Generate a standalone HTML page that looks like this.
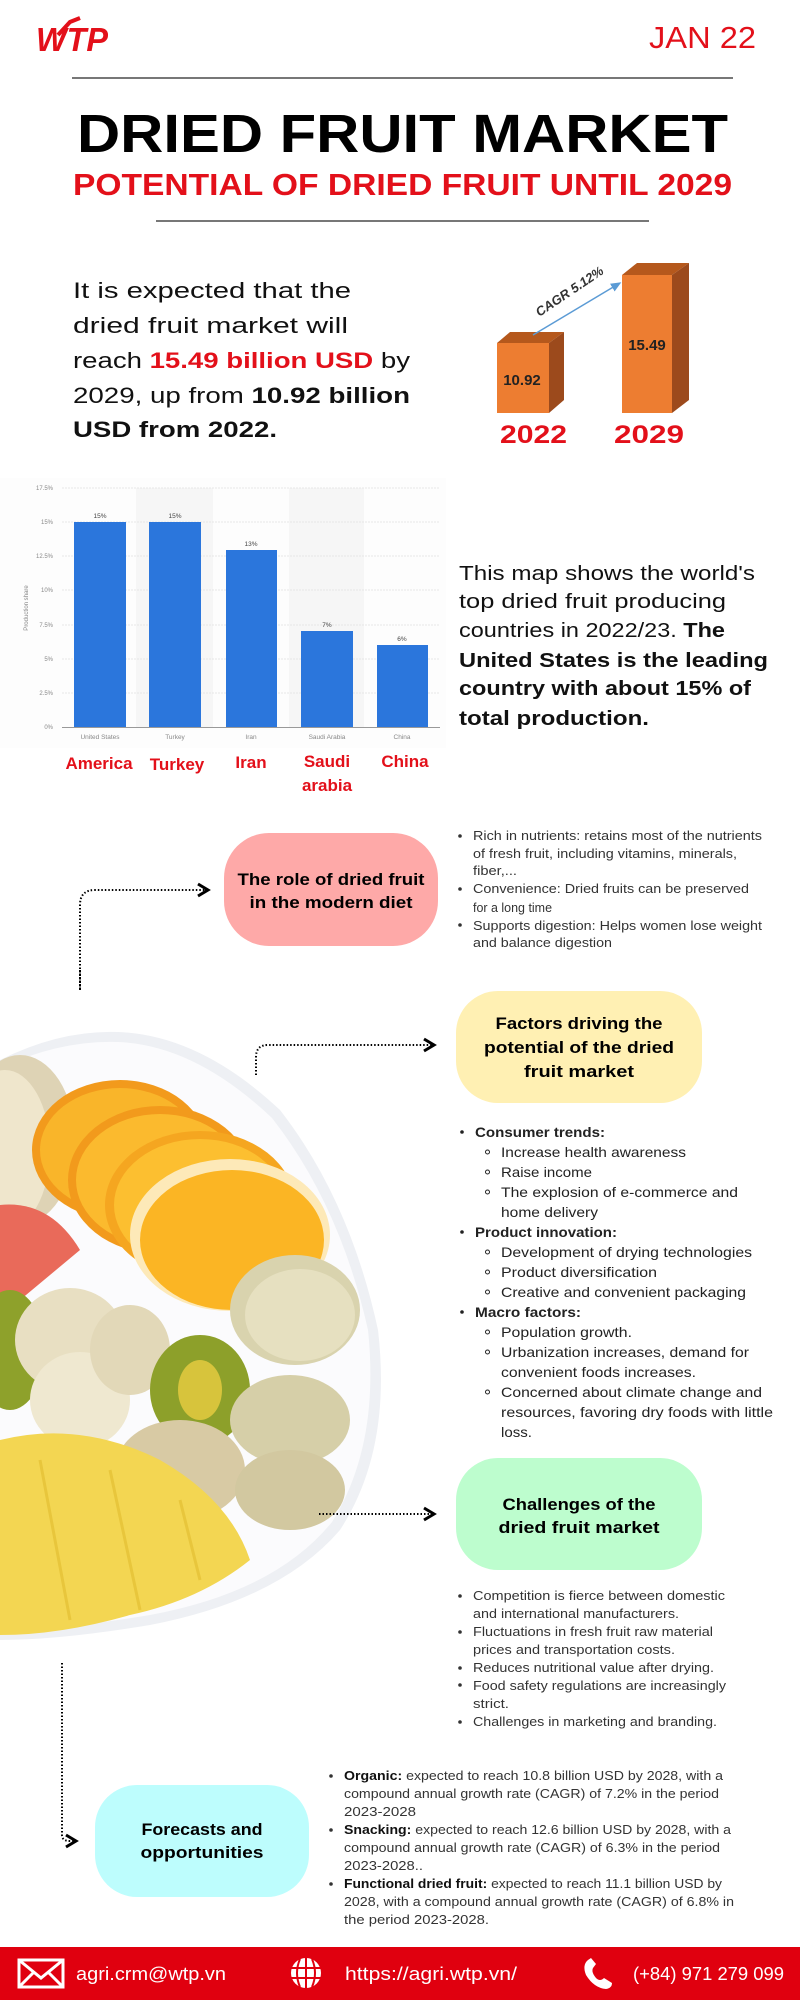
<!DOCTYPE html>
<html><head><meta charset="utf-8"><style>
html,body{margin:0;padding:0;background:#fff}
svg{display:block}
text{font-family:"Liberation Sans",sans-serif}
</style></head><body>
<svg width="800" height="2000" viewBox="0 0 800 2000" xmlns="http://www.w3.org/2000/svg">
<defs>
<marker id="ar" markerWidth="8" markerHeight="8" refX="6" refY="4" orient="auto"><path d="M1,1 L6,4 L1,7" fill="none" stroke="#000" stroke-width="1.5"/></marker>
<marker id="ab" markerWidth="8" markerHeight="8" refX="6" refY="4" orient="auto"><path d="M0,1 L7,4 L0,7Z" fill="#5b9bd5"/></marker>
</defs>
<rect width="800" height="2000" fill="#fff"/>
<!-- header -->
<text x="36" y="51" font-size="33" font-weight="bold" font-style="italic" fill="#e3101a" textLength="72" lengthAdjust="spacingAndGlyphs">WTP</text>
<path d="M58,35 L70,22 L80,18" stroke="#e3101a" stroke-width="4" fill="none"/>
<text x="649" y="48" font-size="31" fill="#e3101a" textLength="107" lengthAdjust="spacingAndGlyphs">JAN 22</text>
<rect x="72" y="77" width="661" height="2" fill="#777"/>
<text x="77" y="152" font-size="54" font-weight="bold" fill="#000" textLength="651" lengthAdjust="spacingAndGlyphs">DRIED FRUIT MARKET</text>
<text x="73" y="195" font-size="31" font-weight="bold" fill="#e3101a" textLength="659" lengthAdjust="spacingAndGlyphs">POTENTIAL OF DRIED FRUIT UNTIL 2029</text>
<rect x="156" y="220" width="493" height="2" fill="#777"/>
<!-- intro paragraph -->
<g font-size="22" fill="#111">
<text x="73" y="298" textLength="278" lengthAdjust="spacingAndGlyphs">It is expected that the</text>
<text x="73" y="333" textLength="275" lengthAdjust="spacingAndGlyphs">dried fruit market will</text>
<text x="73" y="368" textLength="337" lengthAdjust="spacingAndGlyphs">reach <tspan fill="#e3101a" font-weight="bold">15.49 billion USD</tspan> by</text>
<text x="73" y="403" textLength="337" lengthAdjust="spacingAndGlyphs">2029, up from <tspan font-weight="bold">10.92 billion</tspan></text>
<text x="73" y="437" font-weight="bold" textLength="204" lengthAdjust="spacingAndGlyphs">USD from 2022.</text>
</g>
<!-- 3D bars -->
<polygon points="497,343 510,332 564,332 549,343" fill="#b5581c"/>
<polygon points="549,343 564,332 564,400 549,413" fill="#9c4a1c"/>
<rect x="497" y="343" width="52" height="70" fill="#ed7d31"/>
<polygon points="622,275 637,263 689,263 672,275" fill="#b5581c"/>
<polygon points="672,275 689,263 689,400 672,413" fill="#9c4a1c"/>
<rect x="622" y="275" width="50" height="138" fill="#ed7d31"/>
<text x="522" y="385" font-size="15" font-weight="bold" text-anchor="middle" fill="#222">10.92</text>
<text x="647" y="350" font-size="15" font-weight="bold" text-anchor="middle" fill="#222">15.49</text>
<line x1="533" y1="335" x2="620" y2="283" stroke="#5b9bd5" stroke-width="1.5" marker-end="url(#ab)"/>
<text x="572" y="295" font-size="13" font-weight="bold" font-style="italic" fill="#333" text-anchor="middle" transform="rotate(-34 572 295)">CAGR 5.12%</text>
<text x="500" y="443" font-size="25" font-weight="bold" fill="#e3101a" textLength="67" lengthAdjust="spacingAndGlyphs">2022</text>
<text x="614" y="443" font-size="25" font-weight="bold" fill="#e3101a" textLength="70" lengthAdjust="spacingAndGlyphs">2029</text>
<!-- bar chart -->
<rect x="0" y="478" width="446" height="270" fill="#fdfdfd"/>
<rect x="136" y="488" width="77" height="239" fill="#f6f6f6"/>
<rect x="289" y="488" width="75" height="239" fill="#f6f6f6"/>
<g stroke="#e6e6e6" stroke-width="1" stroke-dasharray="2,1">
<line x1="62" y1="488" x2="440" y2="488"/><line x1="62" y1="522" x2="440" y2="522"/><line x1="62" y1="556" x2="440" y2="556"/><line x1="62" y1="590" x2="440" y2="590"/><line x1="62" y1="625" x2="440" y2="625"/><line x1="62" y1="659" x2="440" y2="659"/><line x1="62" y1="693" x2="440" y2="693"/>
</g>
<g font-size="6" fill="#888" text-anchor="end">
<text x="53" y="490">17.5%</text><text x="53" y="524">15%</text><text x="53" y="558">12.5%</text><text x="53" y="592">10%</text><text x="53" y="627">7.5%</text><text x="53" y="661">5%</text><text x="53" y="695">2.5%</text><text x="53" y="729">0%</text>
</g>
<text x="28" y="608" font-size="6" fill="#888" text-anchor="middle" transform="rotate(-90 28 608)">Production share</text>
<g fill="#2b76dc">
<rect x="74" y="522" width="52" height="205"/><rect x="149" y="522" width="52" height="205"/><rect x="226" y="550" width="51" height="177"/><rect x="301" y="631" width="52" height="96"/><rect x="377" y="645" width="51" height="82"/>
</g>
<line x1="62" y1="727.5" x2="440" y2="727.5" stroke="#999" stroke-width="1"/>
<g font-size="6.5" fill="#444" text-anchor="middle">
<text x="100" y="518">15%</text><text x="175" y="518">15%</text><text x="251" y="546">13%</text><text x="327" y="627">7%</text><text x="402" y="641">6%</text>
</g>
<g font-size="6.5" fill="#888" text-anchor="middle">
<text x="100" y="739">United States</text><text x="175" y="739">Turkey</text><text x="251" y="739">Iran</text><text x="327" y="739">Saudi Arabia</text><text x="402" y="739">China</text>
</g>
<g font-size="17" font-weight="bold" fill="#e3101a" text-anchor="middle">
<text x="99" y="769">America</text><text x="177" y="770">Turkey</text><text x="251" y="768">Iran</text><text x="327" y="767">Saudi</text><text x="327" y="791">arabia</text><text x="405" y="767">China</text>
</g>
<g font-size="20" fill="#111">
<text x="459" y="580" textLength="296" lengthAdjust="spacingAndGlyphs">This map shows the world's</text>
<text x="459" y="608" textLength="267" lengthAdjust="spacingAndGlyphs">top dried fruit producing</text>
<text x="459" y="637" textLength="266" lengthAdjust="spacingAndGlyphs">countries in 2022/23. <tspan font-weight="bold">The</tspan></text>
<text x="459" y="667" font-weight="bold" textLength="309" lengthAdjust="spacingAndGlyphs">United States is the leading</text>
<text x="459" y="695" font-weight="bold" textLength="292" lengthAdjust="spacingAndGlyphs">country with about 15% of</text>
<text x="459" y="725" font-weight="bold" textLength="190" lengthAdjust="spacingAndGlyphs">total production.</text>
</g>
<!-- role box -->
<rect x="224" y="833" width="214" height="113" rx="45" fill="#fea9a8"/>
<g font-size="17" font-weight="bold" fill="#000" text-anchor="middle">
<text x="331" y="885" textLength="187" lengthAdjust="spacingAndGlyphs">The role of dried fruit</text>
<text x="331" y="908" textLength="163" lengthAdjust="spacingAndGlyphs">in the modern diet</text>
</g>
<path d="M80,990 L80,905 Q80,890 95,890 L208,890" fill="none" stroke="#000" stroke-width="2" stroke-dasharray="1.5,2" marker-end="url(#ar)"/>
<g font-size="13" fill="#333">
<circle cx="460" cy="836" r="1.8"/><circle cx="460" cy="889" r="1.8"/><circle cx="460" cy="925" r="1.8"/>
<text x="473" y="840" textLength="289" lengthAdjust="spacingAndGlyphs">Rich in nutrients: retains most of the nutrients</text>
<text x="473" y="858" textLength="264" lengthAdjust="spacingAndGlyphs">of fresh fruit, including vitamins, minerals,</text>
<text x="473" y="875" textLength="44" lengthAdjust="spacingAndGlyphs">fiber,...</text>
<text x="473" y="893" textLength="276" lengthAdjust="spacingAndGlyphs">Convenience: Dried fruits can be preserved</text>
<text x="473" y="912" textLength="79" lengthAdjust="spacingAndGlyphs">for a long time</text>
<text x="473" y="930" textLength="289" lengthAdjust="spacingAndGlyphs">Supports digestion: Helps women lose weight</text>
<text x="473" y="947" textLength="139" lengthAdjust="spacingAndGlyphs">and balance digestion</text>
</g>
<!-- plate -->
<path d="M0,1060 Q60,1030 118,1032 Q200,1035 280,1110 Q350,1200 378,1330 Q392,1450 340,1530 Q280,1600 150,1625 Q60,1640 0,1640 Z" fill="#eef0f4"/>
<path d="M0,1068 Q60,1040 118,1042 Q195,1045 272,1118 Q340,1205 368,1330 Q380,1445 332,1522 Q275,1592 150,1615 Q60,1630 0,1630 Z" fill="#fbfbfd"/>
<ellipse cx="20" cy="1140" rx="55" ry="85" fill="#ded3b5"/>
<ellipse cx="5" cy="1150" rx="45" ry="80" fill="#efe6cc"/>
<ellipse cx="120" cy="1150" rx="88" ry="70" fill="#f29a1c"/>
<ellipse cx="120" cy="1150" rx="80" ry="62" fill="#f9b52a"/>
<ellipse cx="160" cy="1180" rx="92" ry="74" fill="#f29a1c"/>
<ellipse cx="160" cy="1180" rx="84" ry="66" fill="#fbba2e"/>
<ellipse cx="200" cy="1205" rx="95" ry="74" fill="#f5a620"/>
<ellipse cx="200" cy="1205" rx="86" ry="66" fill="#fcbf30"/>
<ellipse cx="230" cy="1235" rx="100" ry="76" fill="#fde9b8"/>
<ellipse cx="232" cy="1240" rx="92" ry="70" fill="#fbb524"/>
<path d="M0,1205 Q50,1200 80,1250 L20,1300 L0,1300Z" fill="#e96a5a"/>
<ellipse cx="295" cy="1310" rx="65" ry="55" fill="#d9d3ae"/>
<ellipse cx="300" cy="1315" rx="55" ry="46" fill="#e6e0c0"/>
<ellipse cx="10" cy="1350" rx="35" ry="60" fill="#8ea12b"/>
<ellipse cx="70" cy="1340" rx="55" ry="52" fill="#e8dfc2"/>
<ellipse cx="80" cy="1400" rx="50" ry="48" fill="#efe8d0"/>
<ellipse cx="130" cy="1350" rx="40" ry="45" fill="#e2d8b8"/>
<ellipse cx="200" cy="1390" rx="50" ry="55" fill="#8da02a"/>
<ellipse cx="200" cy="1390" rx="22" ry="30" fill="#d7c43c"/>
<ellipse cx="290" cy="1420" rx="60" ry="45" fill="#d6cfa8"/>
<ellipse cx="180" cy="1470" rx="65" ry="50" fill="#d8caa4"/>
<ellipse cx="290" cy="1490" rx="55" ry="40" fill="#d2c8a0"/>
<path d="M0,1440 Q80,1420 160,1460 Q230,1500 250,1560 Q200,1600 130,1615 Q60,1635 0,1635Z" fill="#f3d652"/>
<path d="M40,1460 L70,1620 M110,1470 L140,1610 M180,1500 L200,1580" stroke="#e8c63c" stroke-width="3"/>
<!-- factors -->
<path d="M80,970 L80,990" stroke="#000" stroke-width="2" stroke-dasharray="1.5,2"/>
<rect x="456" y="991" width="246" height="112" rx="42" fill="#fff0b3"/>
<g font-size="17" font-weight="bold" fill="#000" text-anchor="middle">
<text x="579" y="1029" textLength="167" lengthAdjust="spacingAndGlyphs">Factors driving the</text>
<text x="579" y="1053" textLength="190" lengthAdjust="spacingAndGlyphs">potential of the dried</text>
<text x="579" y="1077" textLength="110" lengthAdjust="spacingAndGlyphs">fruit market</text>
</g>
<path d="M256,1075 L256,1057 Q256,1045 268,1045 L434,1045" fill="none" stroke="#000" stroke-width="2" stroke-dasharray="1.5,2" marker-end="url(#ar)"/>
<g font-size="14" fill="#222">
<circle cx="462" cy="1132" r="1.8"/><circle cx="462" cy="1232" r="1.8"/><circle cx="462" cy="1312" r="1.8"/>
<g fill="none" stroke="#222" stroke-width="1">
<circle cx="487.5" cy="1152" r="2"/><circle cx="487.5" cy="1172" r="2"/><circle cx="487.5" cy="1192" r="2"/><circle cx="487.5" cy="1252" r="2"/><circle cx="487.5" cy="1272" r="2"/><circle cx="487.5" cy="1292" r="2"/><circle cx="487.5" cy="1332" r="2"/><circle cx="487.5" cy="1352" r="2"/><circle cx="487.5" cy="1392" r="2"/>
</g>
<text x="475" y="1137" font-weight="bold" textLength="130" lengthAdjust="spacingAndGlyphs">Consumer trends:</text>
<text x="501" y="1157" textLength="185" lengthAdjust="spacingAndGlyphs">Increase health awareness</text>
<text x="501" y="1177" textLength="91" lengthAdjust="spacingAndGlyphs">Raise income</text>
<text x="501" y="1197" textLength="237" lengthAdjust="spacingAndGlyphs">The explosion of e-commerce and</text>
<text x="501" y="1217" textLength="97" lengthAdjust="spacingAndGlyphs">home delivery</text>
<text x="475" y="1237" font-weight="bold" textLength="142" lengthAdjust="spacingAndGlyphs">Product innovation:</text>
<text x="501" y="1257" textLength="251" lengthAdjust="spacingAndGlyphs">Development of drying technologies</text>
<text x="501" y="1277" textLength="156" lengthAdjust="spacingAndGlyphs">Product diversification</text>
<text x="501" y="1297" textLength="245" lengthAdjust="spacingAndGlyphs">Creative and convenient packaging</text>
<text x="475" y="1317" font-weight="bold" textLength="106" lengthAdjust="spacingAndGlyphs">Macro factors:</text>
<text x="501" y="1337" textLength="131" lengthAdjust="spacingAndGlyphs">Population growth.</text>
<text x="501" y="1357" textLength="248" lengthAdjust="spacingAndGlyphs">Urbanization increases, demand for</text>
<text x="501" y="1377" textLength="195" lengthAdjust="spacingAndGlyphs">convenient foods increases.</text>
<text x="501" y="1397" textLength="261" lengthAdjust="spacingAndGlyphs">Concerned about climate change and</text>
<text x="501" y="1417" textLength="272" lengthAdjust="spacingAndGlyphs">resources, favoring dry foods with little</text>
<text x="501" y="1437" textLength="31" lengthAdjust="spacingAndGlyphs">loss.</text>
</g>
<!-- challenges -->
<rect x="456" y="1458" width="246" height="112" rx="42" fill="#bdfdce"/>
<g font-size="17" font-weight="bold" fill="#000" text-anchor="middle">
<text x="579" y="1510" textLength="153" lengthAdjust="spacingAndGlyphs">Challenges of the</text>
<text x="579" y="1533" textLength="161" lengthAdjust="spacingAndGlyphs">dried fruit market</text>
</g>
<path d="M319,1514 L434,1514" stroke="#000" stroke-width="2" stroke-dasharray="1.5,2" marker-end="url(#ar)"/>
<g font-size="13" fill="#333">
<circle cx="460" cy="1596" r="1.8"/><circle cx="460" cy="1632" r="1.8"/><circle cx="460" cy="1668" r="1.8"/><circle cx="460" cy="1685" r="1.8"/><circle cx="460" cy="1722" r="1.8"/>
<text x="473" y="1600" textLength="252" lengthAdjust="spacingAndGlyphs">Competition is fierce between domestic</text>
<text x="473" y="1618" textLength="206" lengthAdjust="spacingAndGlyphs">and international manufacturers.</text>
<text x="473" y="1636" textLength="240" lengthAdjust="spacingAndGlyphs">Fluctuations in fresh fruit raw material</text>
<text x="473" y="1654" textLength="202" lengthAdjust="spacingAndGlyphs">prices and transportation costs.</text>
<text x="473" y="1672" textLength="241" lengthAdjust="spacingAndGlyphs">Reduces nutritional value after drying.</text>
<text x="473" y="1690" textLength="253" lengthAdjust="spacingAndGlyphs">Food safety regulations are increasingly</text>
<text x="473" y="1708" textLength="36" lengthAdjust="spacingAndGlyphs">strict.</text>
<text x="473" y="1726" textLength="244" lengthAdjust="spacingAndGlyphs">Challenges in marketing and branding.</text>
</g>
<!-- forecasts -->
<path d="M62,1663 L62,1835 Q62,1841 70,1841 L76,1841" fill="none" stroke="#000" stroke-width="2" stroke-dasharray="1.5,2" marker-end="url(#ar)"/>
<rect x="95" y="1785" width="214" height="112" rx="42" fill="#bdfdfd"/>
<g font-size="17" font-weight="bold" fill="#000" text-anchor="middle">
<text x="202" y="1835" textLength="121" lengthAdjust="spacingAndGlyphs">Forecasts and</text>
<text x="202" y="1858" textLength="123" lengthAdjust="spacingAndGlyphs">opportunities</text>
</g>
<g font-size="13" fill="#333">
<circle cx="331" cy="1776" r="1.8"/><circle cx="331" cy="1830" r="1.8"/><circle cx="331" cy="1884" r="1.8"/>
<text x="344" y="1780" textLength="379" lengthAdjust="spacingAndGlyphs"><tspan font-weight="bold" fill="#111">Organic:</tspan> expected to reach 10.8 billion USD by 2028, with a</text>
<text x="344" y="1798" textLength="375" lengthAdjust="spacingAndGlyphs">compound annual growth rate (CAGR) of 7.2% in the period</text>
<text x="344" y="1816" textLength="72" lengthAdjust="spacingAndGlyphs">2023-2028</text>
<text x="344" y="1834" textLength="387" lengthAdjust="spacingAndGlyphs"><tspan font-weight="bold" fill="#111">Snacking:</tspan> expected to reach 12.6 billion USD by 2028, with a</text>
<text x="344" y="1852" textLength="376" lengthAdjust="spacingAndGlyphs">compound annual growth rate (CAGR) of 6.3% in the period</text>
<text x="344" y="1870" textLength="79" lengthAdjust="spacingAndGlyphs">2023-2028..</text>
<text x="344" y="1888" textLength="378" lengthAdjust="spacingAndGlyphs"><tspan font-weight="bold" fill="#111">Functional dried fruit:</tspan> expected to reach 11.1 billion USD by</text>
<text x="344" y="1906" textLength="390" lengthAdjust="spacingAndGlyphs">2028, with a compound annual growth rate (CAGR) of 6.8% in</text>
<text x="344" y="1924" textLength="145" lengthAdjust="spacingAndGlyphs">the period 2023-2028.</text>
</g>
<!-- footer -->
<rect x="0" y="1947" width="800" height="53" fill="#e0000f"/>
<rect x="19" y="1960" width="44" height="27" fill="none" stroke="#fff" stroke-width="3"/>
<path d="M19,1960 L41,1978 L63,1960 M19,1987 L34,1972 M63,1987 L48,1972" stroke="#fff" stroke-width="3" fill="none"/>
<text x="76" y="1980" font-size="18" fill="#fff" textLength="150" lengthAdjust="spacingAndGlyphs">agri.crm@wtp.vn</text>
<circle cx="306" cy="1973" r="15" fill="#fff"/>
<path d="M291,1968 L321,1968 M291,1978 L321,1978 M306,1958 L306,1988 M300,1959 Q294,1973 300,1987 M312,1959 Q318,1973 312,1987" stroke="#e0000f" stroke-width="2" fill="none"/>
<text x="345" y="1980" font-size="18" fill="#fff" textLength="172" lengthAdjust="spacingAndGlyphs">https://agri.wtp.vn/</text>
<path d="M588,1960 Q582,1965 586,1975 Q594,1988 606,1989 Q612,1988 612,1983 L604,1978 Q600,1982 596,1978 Q591,1972 593,1968 L596,1964 L591,1958 Z" fill="#fff"/>
<text x="633" y="1980" font-size="18" fill="#fff" textLength="151" lengthAdjust="spacingAndGlyphs">(+84) 971 279 099</text>
</svg>
</body></html>
